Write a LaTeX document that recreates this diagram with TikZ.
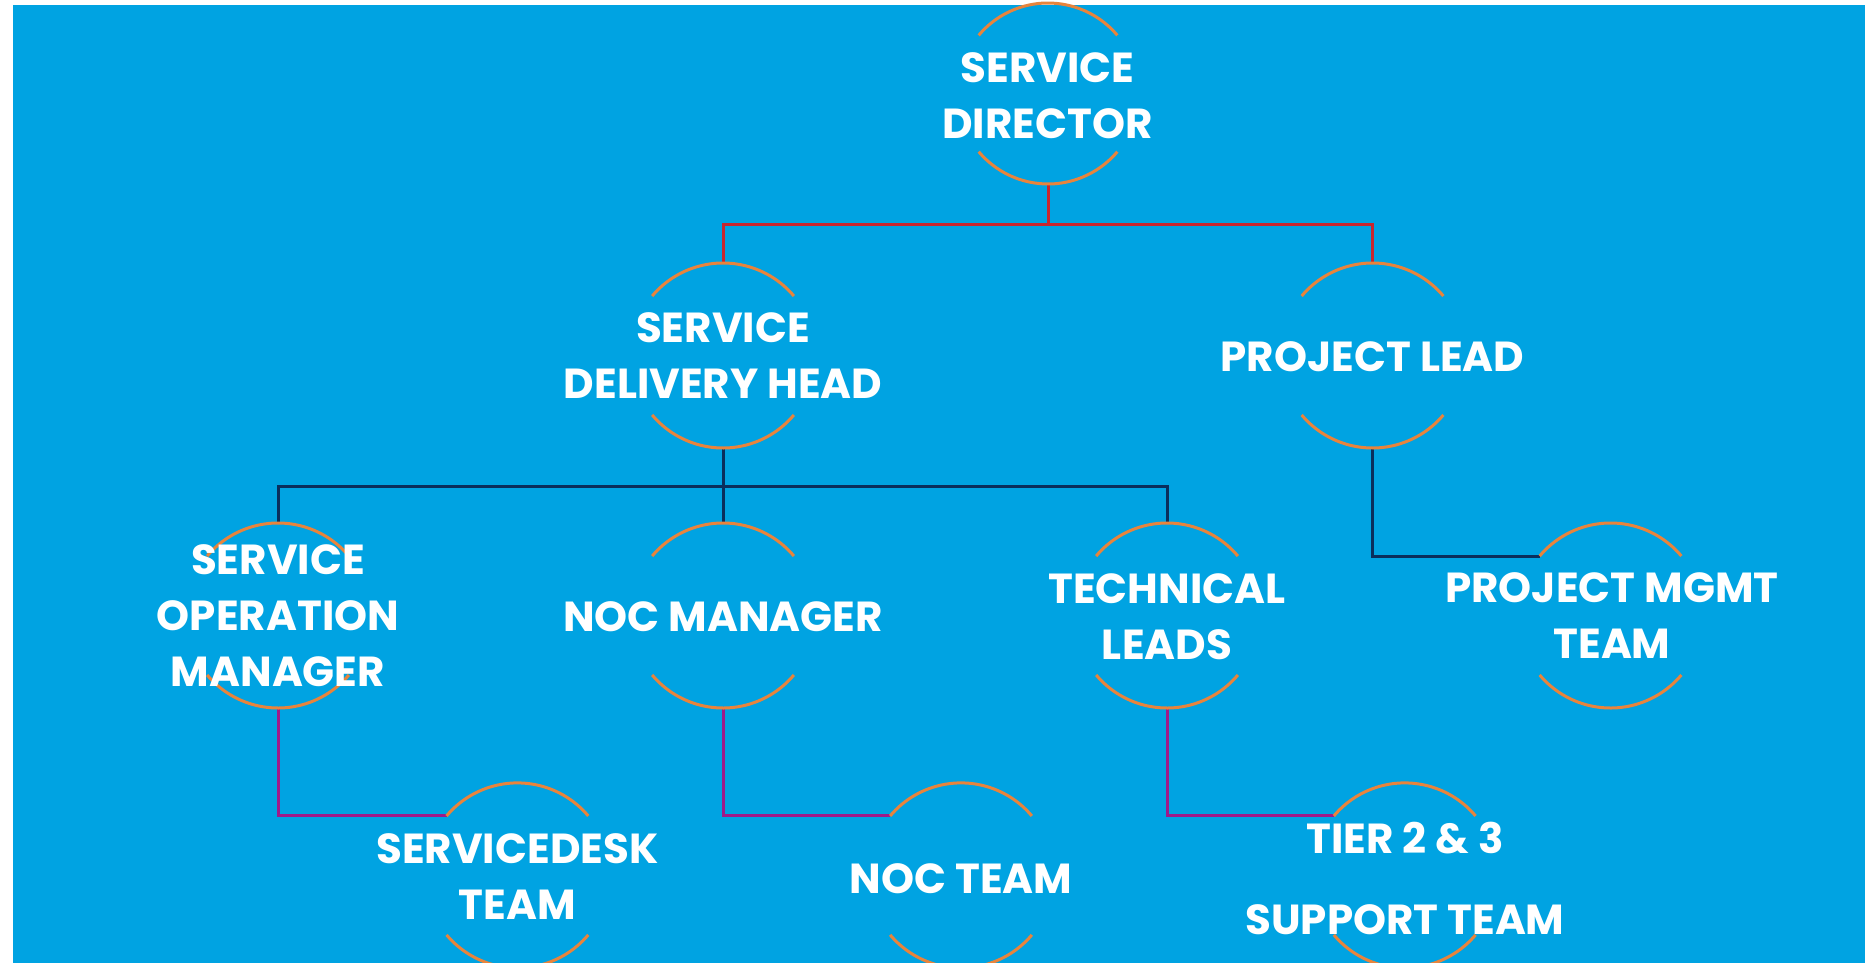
\documentclass[tikz,border=0pt]{standalone}
\usepackage{fontspec}
\setmainfont{Poppins}
\definecolor{bgblue}{RGB}{0,163,226}
\definecolor{arcc}{RGB}{232,132,60}
\definecolor{redl}{RGB}{200,38,46}
\definecolor{navyl}{RGB}{10,46,92}
\definecolor{magl}{RGB}{158,26,138}
\newcommand\ringarcs[2]{%
  \draw[arcline] (#1.40) arc[start angle=40,end angle=140,radius=#2pt];
  \draw[arcline] (#1.220) arc[start angle=220,end angle=320,radius=#2pt];}
\begin{document}
\begin{tikzpicture}[x=1pt,y=1pt,
  ring/.style={circle,minimum size=185pt,inner sep=0pt,outer sep=0pt},
  lbl/.style={text=white,font=\fontsize{42}{56}\selectfont\bfseries,align=center,inner sep=0pt},
  arcline/.style={draw=arcc,line width=3pt},
  redcon/.style={draw=redl,line width=3pt},
  navycon/.style={draw=navyl,line width=3pt},
  magcon/.style={draw=magl,line width=3pt}]
\useasboundingbox (0,0) rectangle (1865,-963);
\fill[bgblue] (13,-5) rectangle (1865,-963);

% rings
\node[ring,minimum size=181pt] (sd) at (1048,-93.5) {};
\node[ring] (sdh) at (723,-355.5) {};
\node[ring] (pl) at (1372.5,-355.5) {};
\node[ring] (som) at (278,-615.5) {};
\node[ring] (nocm) at (723,-615.5) {};
\node[ring] (tl) at (1167,-615.5) {};
\node[ring] (pmt) at (1610.5,-615.5) {};
\node[ring] (sdt) at (517.4,-875.4) {};
\node[ring] (noct) at (961,-875.4) {};
\node[ring] (tier) at (1404.7,-875.4) {};

% connectors
\coordinate (j1) at (1048,-224);
\coordinate (j2) at (723,-486.7);
\draw[redcon] (sd.south) -- (j1);
\draw[redcon] (sdh.north) -- (sdh.north |- j1) -- (pl.north |- j1) -- (pl.north);
\draw[navycon] (sdh.south) -- (j2);
\draw[navycon] (som.north) -- (som.north |- j2) -- (tl.north |- j2) -- (tl.north);
\draw[navycon] (j2) -- (nocm.north);
\draw[navycon] (pl.south) |- (pmt.140);
\draw[magcon] (som.south) |- (sdt.140);
\draw[magcon] (nocm.south) |- (noct.140);
\draw[magcon] (tl.south) |- (tier.140);

% arcs
\ringarcs{sd}{90.5}
\ringarcs{sdh}{92.5}
\ringarcs{pl}{92.5}
\ringarcs{som}{92.5}
\ringarcs{nocm}{92.5}
\ringarcs{tl}{92.5}
\ringarcs{pmt}{92.5}
\ringarcs{sdt}{92.5}
\ringarcs{noct}{92.5}
\ringarcs{tier}{92.5}

% labels
\node[lbl] (sd-t) at (1047.5,-95.7) {SERVICE\\DIRECTOR};
\node[lbl] (sdh-t) at (723,-356) {SERVICE\\DELIVERY HEAD};
\node[lbl] (pl-t) at (1372.5,-357) {PROJECT LEAD};
\node[lbl] (som-t) at (278,-616) {SERVICE\\OPERATION\\MANAGER};
\node[lbl] (nocm-t) at (723,-617) {NOC MANAGER};
\node[lbl] (tl-t) at (1167,-617) {TECHNICAL\\LEADS};
\node[lbl] (pmt-t) at (1612,-616) {PROJECT MGMT\\TEAM};
\node[lbl] (sdt-t) at (517.4,-876.5) {SERVICEDESK\\TEAM};
\node[lbl] (noct-t) at (961,-879) {NOC TEAM};
\node[lbl] (tier-t) at (1405,-878) {TIER 2 \& 3\\[25pt]SUPPORT TEAM};
\end{tikzpicture}
\end{document}
